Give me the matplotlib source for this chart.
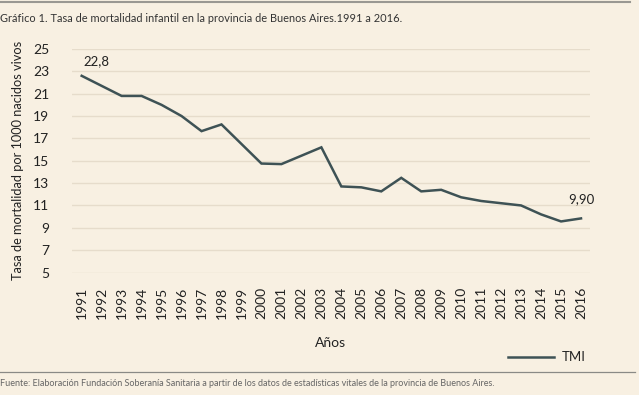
import matplotlib.pyplot as plt
from matplotlib.lines import Line2D

# ---------------------------
# DATA
# ---------------------------
years = list(range(1991, 2017))
tmi = [22.6, 21.7, 20.8, 20.8, 20.0, 19.0, 17.65, 18.25, 16.5, 14.75,
       14.7, 15.45, 16.2, 12.7, 12.62, 12.26, 13.47, 12.26, 12.4, 11.73,
       11.4, 11.2, 11.0, 10.2, 9.57, 9.84]
yticks = list(range(5, 26, 2))
labels_txt = {1991: "22,8", 2016: "9,90"}

BG = "#F8F0E2"
LINE = "#3E5255"
GRID = "#E6DCCB"
TXT = "#222222"

plt.rcParams['font.family'] = ['Lato', 'DejaVu Sans']

fig = plt.figure(figsize=(6.39, 3.95), dpi=100, facecolor=BG)
ax = fig.add_axes([71.7 / 639, 1 - 272.5 / 395, (590 - 71.7) / 639, (272.5 - 49) / 395])
ax.set_facecolor(BG)

ax.plot(years, tmi, color=LINE, linewidth=1.8, solid_joinstyle='miter')

ax.set_ylim(5, 25)
ax.set_xlim(1990.5, 2016.45)
ax.set_yticks(yticks)
ax.set_xticks(years)
ax.set_xticklabels([str(y) for y in years], rotation=90, fontsize=10, color=TXT)
ax.tick_params(axis='y', labelsize=10, colors=TXT, length=0, pad=16)
ax.tick_params(axis='x', length=0, pad=10)
ax.grid(axis='y', color=GRID, linewidth=1)
ax.set_axisbelow(True)
for s in ax.spines.values():
    s.set_visible(False)

ax.set_ylabel("Tasa de mortalidad por 1000 nacidos vivos", fontsize=9.2, color=TXT, labelpad=7)
ax.set_xlabel("Años", fontsize=10, color=TXT, labelpad=13)

ax.annotate(labels_txt[1991], (1991, tmi[0]), xytext=(1, 8), textcoords='offset points',
            fontsize=9.5, color=TXT)
ax.annotate(labels_txt[2016], (2016, tmi[-1]), xytext=(-9, 11), textcoords='offset points',
            fontsize=9.5, color=TXT)

# title, legend, source
fig.text(0.0, 1 - 18 / 395, "Gráfico 1. Tasa de mortalidad infantil en la provincia de Buenos Aires.1991 a 2016.",
         fontsize=7.9, color="#333333", va='center', ha='left')
fig.add_artist(Line2D([508 / 639, 554 / 639], [1 - 357 / 395] * 2, color=LINE, linewidth=1.8))
fig.text(562 / 639, 1 - 357 / 395, "TMI", fontsize=9.5, color=TXT, va='center')
fig.add_artist(Line2D([0, 635 / 639], [1 - 372 / 395] * 2, color="#8A8A86", linewidth=0.9))
fig.add_artist(Line2D([0, 630 / 639], [1 - 2 / 395] * 2, color="#9A9892", linewidth=1.5))
fig.text(0.0, 1 - 383 / 395,
         "Fuente: Elaboración Fundación Soberanía Sanitaria a partir de los datos de estadísticas vitales de la provincia de Buenos Aires.",
         fontsize=6.5, color="#666666", va='center', ha='left')

fig.savefig("out.png", dpi=100, facecolor=BG)
